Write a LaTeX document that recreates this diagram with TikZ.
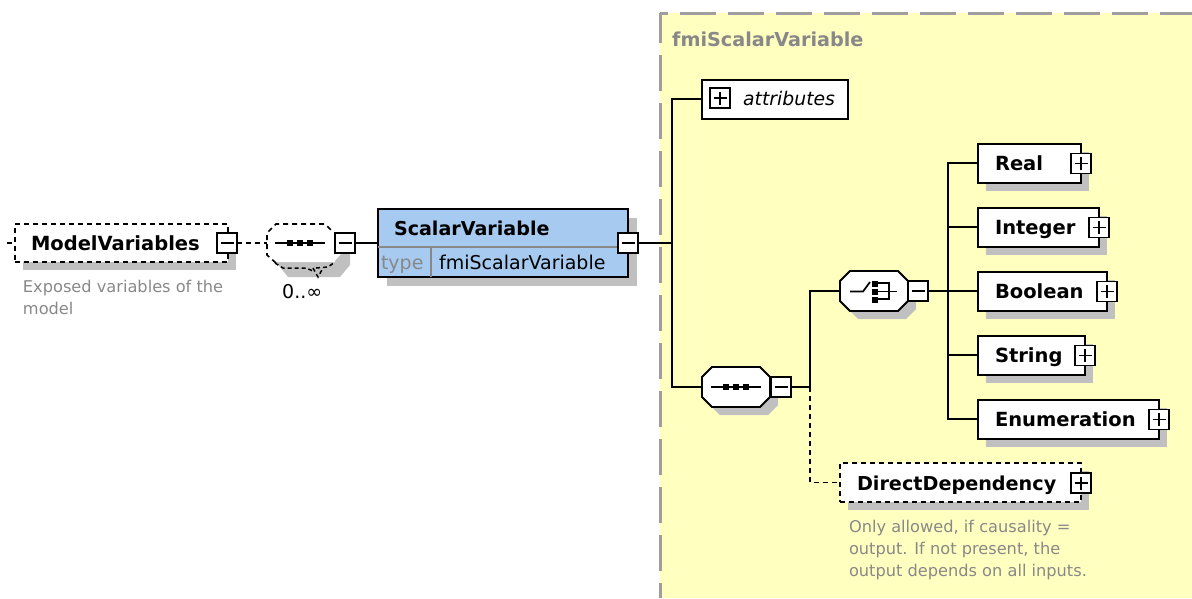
\documentclass[tikz,border=0pt]{standalone}
\usepackage{fontspec}
\setmainfont{DejaVu Sans}
\usetikzlibrary{calc,shadows}
\definecolor{panelfill}{HTML}{FFFFC0}
\definecolor{panelline}{HTML}{9E9E9E}
\definecolor{shadowgray}{HTML}{C0C0C0}
\definecolor{bluefill}{HTML}{A6CAF0}
\definecolor{notegray}{HTML}{888888}
\tikzset{
  x=1pt,y=-1pt,
  conn/.style={line width=1.8pt,draw=black},
  dconn/.style={conn,dash pattern=on 5pt off 4pt},
  shad/.style={general shadow={shadow xshift=#1,shadow yshift=-#1,fill=shadowgray,draw=none}},
  shad/.default=8pt,
  plainbox/.style={draw=black,line width=2pt,fill=white,inner sep=0pt,outer sep=0pt,rectangle,anchor=north west},
  elem/.style={plainbox,shad},
  delem/.style={elem,dash pattern=on 5pt off 4pt},
  octa/.style={inner sep=0pt,outer sep=0pt,rectangle,anchor=north west},
  octaline/.style={draw=black,line width=1.8pt,fill=white},
  tgl/.style={draw=black,line width=1.8pt,fill=white,minimum width=20pt,minimum height=20pt,inner sep=0pt,outer sep=0pt,rectangle,anchor=north west},
  tminus/.style={tgl,path picture={\draw[line width=1.5pt](path picture bounding box.center)+(-6.5pt,0)--+(6.5pt,0);}},
  tplus/.style={tgl,path picture={\draw[line width=1.5pt](path picture bounding box.center)+(-6.5pt,0)--+(6.5pt,0) (path picture bounding box.center)+(0,-6.5pt)--+(0,6.5pt);}},
  lbl/.style={inner sep=0pt,outer sep=0pt,anchor=base west,font=\fontsize{19.5}{19.5}\selectfont\bfseries},
  note/.style={inner sep=0pt,outer sep=0pt,anchor=base west,text=notegray,font=\fontsize{16.2}{16.2}\selectfont},
}
\newcommand{\octapath}[1]{($(#1.north west)+(10pt,0pt)$) -- ($(#1.north east)+(-10pt,0pt)$) -- ($(#1.north east)+(0pt,-10pt)$) -- ($(#1.south east)+(0pt,10pt)$) -- ($(#1.south east)+(-10pt,0pt)$) -- ($(#1.south west)+(10pt,0pt)$) -- ($(#1.south west)+(0pt,10pt)$) -- ($(#1.north west)+(0pt,-10pt)$) -- cycle}
\newcommand{\octashape}[1]{\fill[shadowgray,transform canvas={shift={(8pt,-8pt)}}] \octapath{#1};\draw[octaline] \octapath{#1};}
\newcommand{\seqglyph}[1]{\draw[line width=1.7pt] (#1)+(-25pt,0)--+(25pt,0);\fill (#1)+(-13pt,-3pt) rectangle +(-7pt,3pt);\fill (#1)+(-3pt,-3pt) rectangle +(3pt,3pt);\fill (#1)+(7pt,-3pt) rectangle +(13pt,3pt);}
\begin{document}
\begin{tikzpicture}
\useasboundingbox (0,0) rectangle (1192,598);
\fill[panelfill] (660,13) rectangle (1192,598);
\draw[panelline,line width=3pt,dash pattern=on 36pt off 12pt,dash phase=28pt] (660,13) -- (1192,13);
\draw[panelline,line width=3pt,dash pattern=on 36pt off 12pt,dash phase=6pt] (660,13) -- (660,598);
\node[inner sep=0pt,anchor=base west,text=notegray,font=\fontsize{19.2}{19.2}\selectfont\bfseries] (ptitle) at (672,46) {fmiScalarVariable};

% junctions
\coordinate (j1) at (672,243);
\coordinate (j2) at (810,387);
\coordinate (j3) at (948,291);
\coordinate (mstub) at (7,243);

% nodes
\node[delem,minimum width=213pt,minimum height=38pt] (mv) at (15,224) {};
\node[lbl] (mvl) at (31,250) {ModelVariables};
\node[tminus] (mvt) at (217,233) {};
\node[note] (mvn1) at (23,292) {Exposed variables of the};
\node[note] (mvn2) at (23,314) {model};

\fill[shadowgray] (276,262) -- (288,277) -- (340,277) -- (350,265) -- (350,253) -- (342,253) -- (334,262) -- cycle;
\node[octa,minimum width=66pt,minimum height=38pt] (sq) at (267,224) {};
\fill[white] (267,233) -- (276,224) -- (325,224) -- (333,232) -- (335,262) -- (275,262) -- (267,255) -- cycle;
\draw[line width=1.6pt,dash pattern=on 5pt off 4pt] (276,263) -- (267,255) -- (267,233) -- (276,224) -- (325,224) -- (333,232);
\draw[line width=1.5pt,dash pattern=on 4pt off 3pt] (275,263) -- (283,268) -- (306,268) -- (313,271);
\draw[line width=1.5pt,dash pattern=on 4pt off 3pt] (313,268) -- (318,277) -- (323,268);
\draw[line width=1.5pt,dash pattern=on 4pt off 3pt] (316,268) -- (328,267) -- (335,262);
\node[tminus] (sqt) at (335,233) {};
\seqglyph{sq.center}
\node[inner sep=0pt,anchor=base west,font=\fontsize{19}{19}\selectfont] (occ) at (282,298) {0..∞};

\node[plainbox,shad=9pt,fill=bluefill,minimum width=250pt,minimum height=68pt] (sv) at (378,209) {};
\draw[line width=1.6pt,draw=notegray] (378,247) -- (628,247);
\draw[line width=1.6pt,draw=notegray] (431,247) -- (431,277);
\node[lbl,font=\fontsize{19.1}{19.1}\selectfont\bfseries] (svl) at (394,235) {ScalarVariable};
\node[note,font=\fontsize{19}{19}\selectfont] (svk) at (381,269) {type};
\node[inner sep=0pt,anchor=base west,font=\fontsize{19}{19}\selectfont] (svv) at (439,269) {fmiScalarVariable};
\node[tminus] (svt) at (618,233) {};

\node[plainbox,minimum width=146pt,minimum height=39pt] (at) at (702,79.5) {};
\node[tplus] (att) at (710,88) {};
\node[inner sep=0pt,anchor=base west,font=\fontsize{18.8}{18.8}\selectfont\itshape] (atl) at (743,105) {attributes};

\node[octa,minimum width=68pt,minimum height=40pt] (s2) at (702,367) {};
\octashape{s2}
\node[tminus] (s2t) at (771,377) {};
\seqglyph{s2.center}

\node[octa,minimum width=68pt,minimum height=40pt] (ch) at (840,271) {};
\octashape{ch}
\node[tminus] (cht) at (908,281) {};
\draw[line width=1.7pt] (850,291.5) -- (863,291.5) -- (870,282);
\fill (872,281) rectangle (878,286.5);
\fill (872,289) rectangle (878,294.5);
\fill (872,297) rectangle (878,302.5);
\draw[line width=1.5pt] (877,283) -- (889,283) -- (889,299) -- (877,299) (877,291.5) -- (897,291.5);

\node[elem,minimum width=103pt,minimum height=39pt] (re) at (978,143.5) {};
\node[lbl] (rel) at (995,170) {Real};
\node[tplus] (ret) at (1071,153.5) {};

\node[elem,minimum width=121pt,minimum height=39pt] (in) at (978,207.5) {};
\node[lbl] (inl) at (995,234) {Integer};
\node[tplus] (int) at (1089,217.5) {};

\node[elem,minimum width=129pt,minimum height=39pt] (bo) at (978,271.5) {};
\node[lbl] (bol) at (995,298) {Boolean};
\node[tplus] (bot) at (1097,281.5) {};

\node[elem,minimum width=107pt,minimum height=39pt] (st) at (978,335.5) {};
\node[lbl] (stl) at (995,362) {String};
\node[tplus] (stt) at (1075,345.5) {};

\node[elem,minimum width=181pt,minimum height=39pt] (en) at (978,399.5) {};
\node[lbl] (enl) at (995,426) {Enumeration};
\node[tplus] (ent) at (1149,409.5) {};

\node[delem,minimum width=241pt,minimum height=39pt] (dd) at (840,463) {};
\node[lbl,font=\fontsize{19.2}{19.2}\selectfont\bfseries] (ddl) at (857,490) {DirectDependency};
\node[tplus] (ddt) at (1071,473) {};
\node[note] (dn1) at (849,532) {Only allowed, if causality =};
\node[note] (dn2) at (849,554) {output. If not present, the};
\node[note] (dn3) at (849,576) {output depends on all inputs.};

% connectors
\draw[dconn] (mstub) -- (mv.west);
\draw[dconn] (mvt.east) -- (sq.west);
\draw[conn] (sqt.east) -- (sv.west |- sqt.east);
\draw[conn] (svt.east) -- (j1);
\draw[conn] (at.west) -| (j1) |- (s2.west);
\draw[conn] (s2t.east) -- (j2);
\draw[conn] (j2) |- (ch.west);
\draw[dconn] (j2) |- (dd.west);
\draw[conn] (cht.east) -- (cht.east -| j3);
\draw[conn] (re.west) -| (j3) |- (en.west);
\draw[conn] (in.west) -- (in.west -| j3);
\draw[conn] (bo.west) -- (bo.west -| j3);
\draw[conn] (st.west) -- (st.west -| j3);
\end{tikzpicture}
\end{document}
